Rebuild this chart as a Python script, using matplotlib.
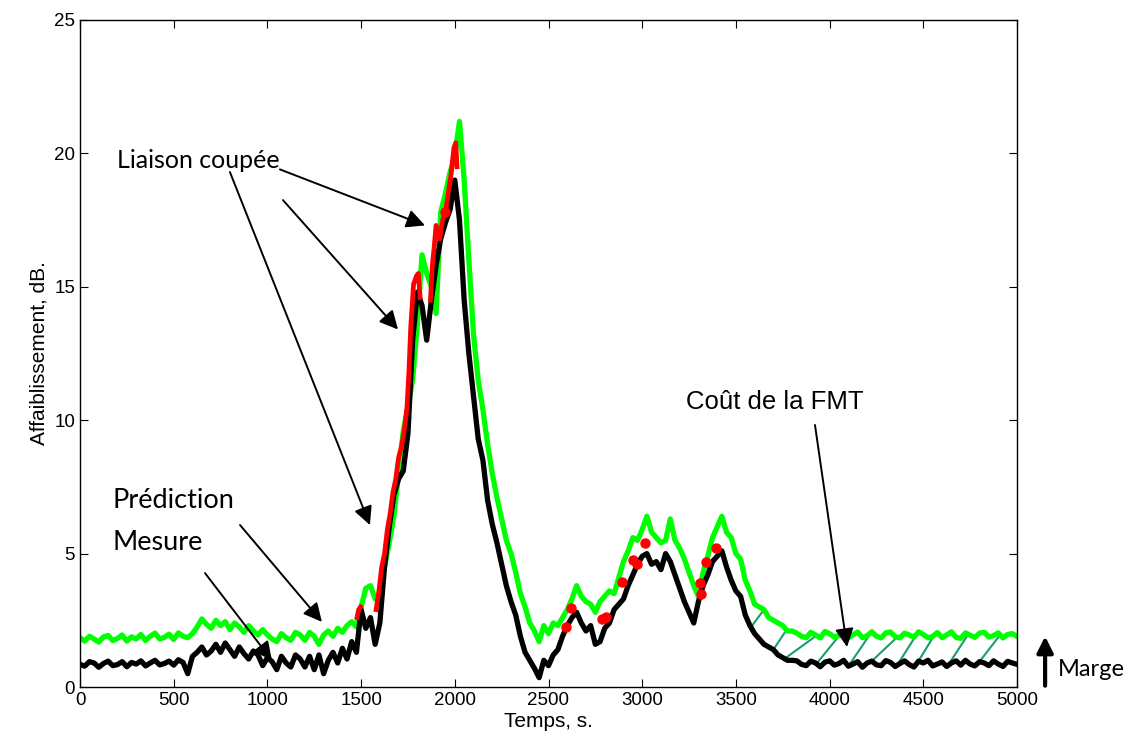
import matplotlib
matplotlib.use('Agg')
import matplotlib.pyplot as plt
import numpy as np

# time grid (s), one sample every 25 s
temps = np.arange(0, 5001, 25)

# Mesure (black), dB
mesure = [
    0.85, 0.78, 0.95, 0.9, 0.74, 0.88, 0.97, 0.8, 0.84, 0.95, 0.76, 0.92, 0.86, 0.98, 0.79, 0.9, 1.0, 0.83, 0.88, 0.97,
    0.82, 1.02, 0.92, 0.5, 1.15, 1.3, 1.5, 1.2, 1.35, 1.6, 1.3, 1.65, 1.4, 1.15, 1.5, 1.25, 1.05, 1.35, 1.2, 0.8,
    1.1, 0.95, 0.65, 1.15, 0.9, 0.75, 1.2, 1.05, 0.75, 1.15, 0.65, 1.2, 0.5, 1.0, 1.3, 0.9, 1.45, 1.05, 1.7, 1.3,
    2.9, 2.2, 2.6, 1.6, 2.4, 4.5, 6.0, 7.2, 7.8, 8.1, 9.5, 13.0, 14.8, 14.3, 13.0, 14.5, 15.8, 16.8, 17.4, 17.9,
    19.0, 17.5, 14.5, 12.5, 10.9, 9.3, 8.5, 7.0, 6.1, 5.4, 4.6, 3.8, 3.2, 2.7, 1.9, 1.3, 1.0, 0.7, 0.35, 1.0,
    0.8, 1.2, 1.4, 1.9, 2.3, 2.6, 2.8, 2.4, 2.1, 2.3, 1.6, 1.7, 2.2, 2.4, 2.9, 3.1, 3.3, 3.8, 4.2, 4.6,
    4.9, 5.0, 4.6, 4.7, 4.4, 5.0, 4.7, 4.2, 3.7, 3.2, 2.8, 2.4, 3.2, 3.8, 4.2, 4.7, 4.9, 5.1, 4.5, 4.0,
    3.6, 3.4, 2.7, 2.3, 2.0, 1.8, 1.6, 1.5, 1.4, 1.2, 1.1, 1.0, 1.0,
    0.98, 0.85, 0.8, 0.97, 0.9, 0.76, 0.93, 0.98, 0.82, 0.88, 1.0, 0.78, 0.86, 0.95, 0.74, 0.9, 0.97, 0.83, 0.8, 0.99,
    0.92, 0.77, 0.88, 0.98, 0.84, 0.75, 0.97, 0.9, 1.0, 0.79, 0.86, 0.94, 0.77, 0.9, 0.98, 0.82, 1.0, 0.86, 0.79, 0.95,
    0.9, 0.8, 0.98, 0.86, 0.77, 0.96, 0.9, 0.85,
]

# Prediction (green), dB
prediction = [
    1.85, 1.72, 1.9, 1.8, 1.68, 1.88, 1.93, 1.74, 1.82, 1.95, 1.72, 1.88, 1.8, 1.97, 1.74, 1.9, 2.02, 1.8, 1.86, 1.98,
    1.78, 2.03, 1.9, 1.85, 2.0, 2.25, 2.55, 2.35, 2.2, 2.5, 2.3, 2.45, 2.15, 2.4, 2.25, 2.05, 2.3, 2.1, 1.95, 2.15,
    1.95, 1.8, 1.7, 2.0, 1.85, 1.75, 2.05, 1.95, 1.75, 2.05, 1.9, 1.6, 1.95, 2.1, 1.9, 2.2, 2.05, 2.3, 2.45, 2.25,
    3.0, 3.7, 3.8, 3.3, 3.5, 4.5, 5.4, 6.4, 8.0, 9.6, 10.5, 11.5, 13.6, 16.2, 15.5, 15.0, 14.0, 17.8, 18.5, 19.3,
    19.9, 21.2, 19.0, 16.0, 13.2, 11.5, 10.4, 9.1, 8.0, 7.1, 6.3, 5.5, 5.0, 4.3, 3.5, 3.0, 2.4, 2.1, 1.7, 2.3,
    2.0, 2.4, 2.3, 2.6, 2.9, 3.3, 3.8, 3.4, 3.2, 3.1, 2.8, 3.2, 3.4, 3.6, 3.5, 4.1, 4.7, 5.1, 5.6, 5.5,
    5.9, 6.4, 5.8, 5.6, 5.4, 5.5, 6.3, 5.5, 5.2, 4.8, 4.3, 3.8, 3.4, 4.3, 4.9, 5.6, 6.0, 6.4, 5.8, 5.6,
    5.0, 4.8, 4.0, 3.6, 3.1, 3.0, 2.9, 2.6, 2.5, 2.4, 2.3, 2.1, 2.1,
    2.02, 1.9, 1.85, 2.05, 1.95, 1.84, 2.08, 2.0, 1.87, 1.93, 2.05, 1.84, 1.96, 2.06, 1.85, 1.92, 2.07, 1.9, 1.84, 2.03,
    2.06, 1.88, 1.84, 2.02, 1.95, 1.86, 2.07, 1.97, 1.84, 1.9, 2.04, 1.85, 1.95, 2.07, 1.86, 1.82, 2.03, 1.94, 1.86, 2.02,
    2.05, 1.87, 1.93, 2.03, 1.84, 1.97, 2.0, 1.9,
]

# link cut portions (red line segments)
coupure1_t = [1478, 1487, 1497]
coupure1_y = [2.6, 2.9, 3.0]
coupure2_t = [1580, 1595, 1610, 1625, 1640, 1655, 1670, 1685, 1700, 1715, 1730, 1745, 1755, 1765, 1780, 1795, 1805, 1815]
coupure2_y = [2.9, 3.6, 4.5, 5.0, 5.9, 6.5, 7.3, 7.8, 8.6, 9.0, 9.6, 10.5, 11.8, 13.5, 15.1, 15.4, 15.5, 14.6]
coupure3_t = [1870, 1880, 1890, 1900, 1910, 1920, 1935, 1950, 1965, 1980, 1995, 2005, 2012]
coupure3_y = [14.5, 15.8, 16.5, 17.3, 17.0, 16.8, 17.5, 17.8, 18.5, 19.2, 20.2, 20.4, 19.5]

# isolated cut points (red dots)
points_t = [1948, 2593, 2620, 2785, 2807, 2892, 2951, 2972, 3015, 3308, 3314, 3340, 3394]
points_y = [17.8, 2.25, 2.96, 2.55, 2.62, 3.95, 4.76, 4.6, 5.4, 3.9, 3.5, 4.7, 5.2]

# FMT cost hatching: start on measure, end on prediction
hachure_t0 = [3580, 3700, 3760, 3930, 4100, 4225, 4360, 4470, 4630, 4800]
hachure_t1 = [3650, 3770, 3930, 4055, 4225, 4360, 4470, 4560, 4740, 4910]

assert len(mesure) == len(temps) and len(prediction) == len(temps)

fig = plt.figure(figsize=(11.35, 7.47), dpi=100)
ax = fig.add_axes([80 / 1135, 1 - 687 / 747, 937 / 1135, 667 / 747])

txt_font = 'Lato'
tick_font = 'Liberation Sans'

# hatch first so lines sit on top
for t0, t1 in zip(hachure_t0, hachure_t1):
    y0 = np.interp(t0, temps, mesure)
    y1 = np.interp(t1, temps, prediction)
    ax.plot([t0, t1], [y0, y1], color='#1a9e6a', lw=1.5, zorder=1)

ax.plot(temps, prediction, color='#00ff00', lw=3.8, zorder=2)
ax.plot(temps, mesure, color='black', lw=3.8, zorder=3)
for tt, yy in [(coupure1_t, coupure1_y), (coupure2_t, coupure2_y), (coupure3_t, coupure3_y)]:
    ax.plot(tt, yy, color='#ff0000', lw=3.4, zorder=4)
ax.plot(points_t, points_y, 'o', color='#ff0000', ms=6.5, mec='#ff0000', zorder=5)

ax.set_xlim(0, 5000)
ax.set_ylim(0, 25)
ax.set_xticks(np.arange(0, 5001, 500))
ax.set_yticks(np.arange(0, 26, 5))
ax.tick_params(direction='in', top=True, right=True, length=6, width=0.8, labelsize=13.5)
for lbl in ax.get_xticklabels() + ax.get_yticklabels():
    lbl.set_fontfamily(tick_font)
for s in ax.spines.values():
    s.set_linewidth(1.0)

ax.set_xlabel('Temps, s.', fontsize=15, family=tick_font, labelpad=2)
ax.set_ylabel('Affaiblissement, dB.', fontsize=15, family=tick_font, labelpad=4)

arrow = dict(arrowstyle='-|>', mutation_scale=28, lw=1.4, color='black', shrinkA=0, shrinkB=0)

# Liaison coupee
ax.text(197, 19.75, 'Liaison coupée', fontsize=18, family=txt_font, ha='left', va='center')
ax.annotate('', xy=(1841, 17.3), xytext=(1067, 19.4), arrowprops=arrow)
ax.annotate('', xy=(1697, 13.4), xytext=(1083, 18.25), arrowprops=arrow)
ax.annotate('', xy=(1547, 6.07), xytext=(800, 19.3), arrowprops=arrow)

# Prediction / Mesure
ax.text(171, 7.0, 'Prédiction', fontsize=19.5, family=txt_font, ha='left', va='center')
ax.annotate('', xy=(1291, 2.44), xytext=(854, 6.07), arrowprops=arrow)
ax.text(171, 5.43, 'Mesure', fontsize=19.5, family=txt_font, ha='left', va='center')
ax.annotate('', xy=(1024, 1.0), xytext=(667, 4.27), arrowprops=arrow)

# Cout de la FMT
ax.text(3234, 10.68, 'Coût de la FMT', fontsize=18.5, family=tick_font, ha='left', va='center')
ax.annotate('', xy=(4093, 1.5), xytext=(3922, 9.82), arrowprops=arrow)

# Marge (outside the axes)
ax.annotate('', xy=(5150, 1.9), xytext=(5150, 0.05), annotation_clip=False,
            arrowprops=dict(arrowstyle='-|>', mutation_scale=24, lw=3, color='black', shrinkA=0, shrinkB=0))
ax.text(5219, 0.64, 'Marge', fontsize=17, family=txt_font, ha='left', va='center', clip_on=False)

fig.savefig('out.png', dpi=100, facecolor='white')
